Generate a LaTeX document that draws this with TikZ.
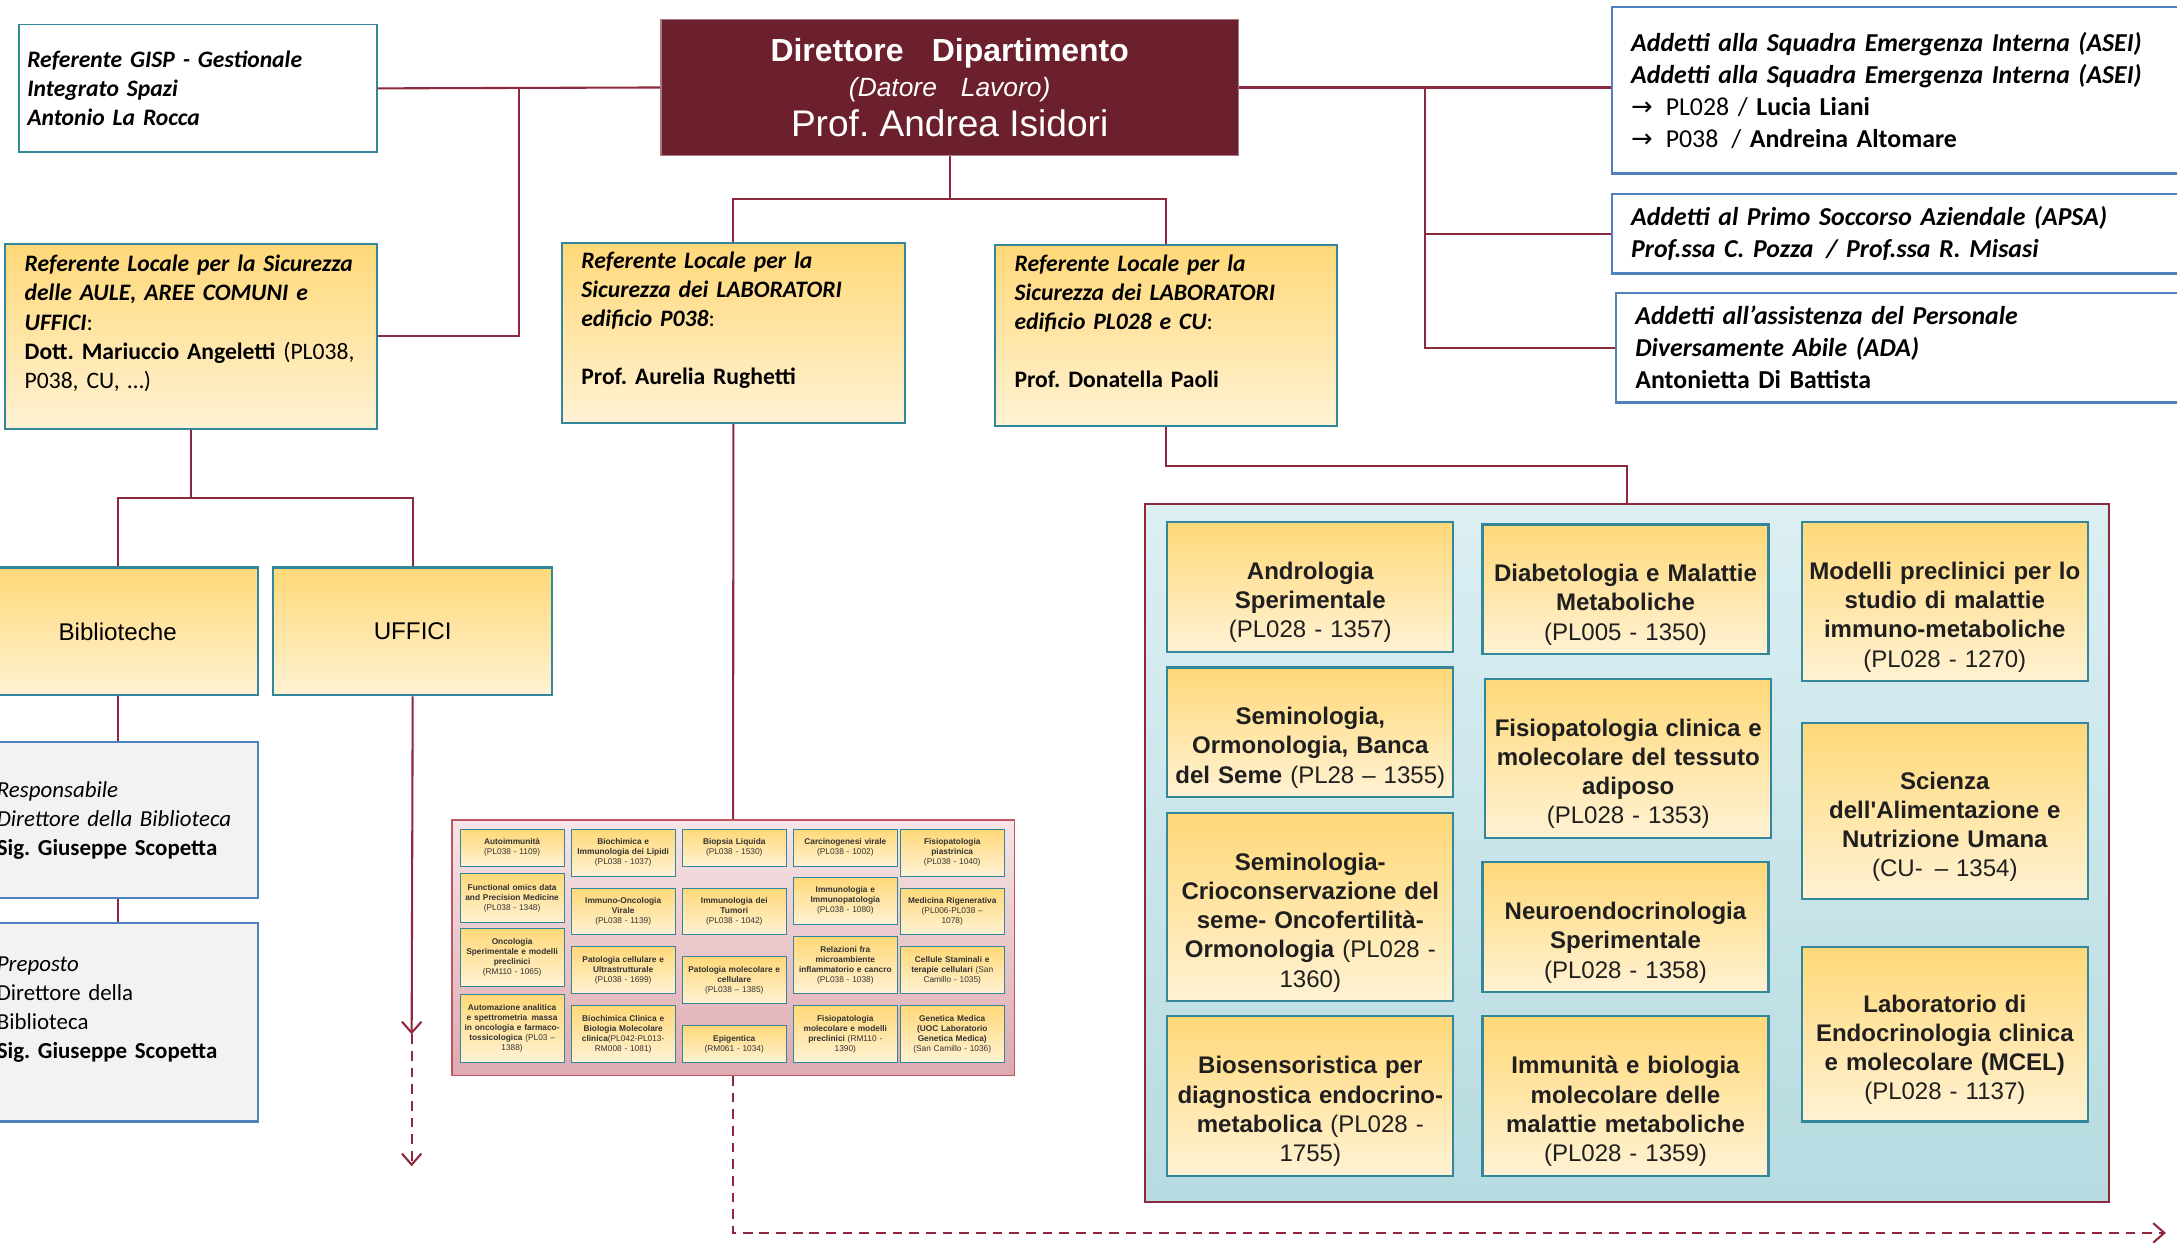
\documentclass[tikz,border=0pt]{standalone}
\usepackage{fontspec}
\setmainfont{Carlito}
\newfontfamily\arialf{Liberation Sans}
\newfontfamily\symf{DejaVu Sans}
\usetikzlibrary{arrows.meta,calc}
\frenchspacing

\definecolor{linered}{RGB}{142,40,60}
\definecolor{dirred}{RGB}{108,31,44}
\definecolor{tealb}{RGB}{52,134,155}
\definecolor{blueb}{RGB}{79,129,189}
\definecolor{goldtop}{RGB}{255,216,120}
\definecolor{goldbot}{RGB}{255,242,212}
\definecolor{panelt}{RGB}{220,239,243}
\definecolor{panelb}{RGB}{182,219,224}
\definecolor{gridt}{RGB}{246,228,230}
\definecolor{gridb}{RGB}{221,170,176}
\definecolor{gridline}{RGB}{190,85,100}

\begin{document}
\begin{tikzpicture}[x=1pt,y=-1pt,
  conn/.style={draw=linered,line width=1.5pt},
  openhead/.style={-{Straight Barb[length=8pt,width=14pt]}},
  dirbox/.style={fill=dirred,draw=dirred!60!white,line width=1pt,text=white,align=center,
    minimum width=416pt,minimum height=98pt,font=\arialf\fontsize{19}{25.5}\selectfont},
  gold/.style={draw=tealb,line width=1.5pt,top color=goldtop,bottom color=goldbot,anchor=north west},
  whitebox/.style={draw=tealb,line width=1.3pt,fill=white,anchor=north west,align=left,
    inner xsep=6pt,font=\fontsize{17}{21}\selectfont\bfseries\itshape},
  refbox/.style={gold,align=left,inner xsep=14pt,font=\fontsize{17}{21}\selectfont\bfseries},
  staffbox/.style={draw=blueb,line width=1.8pt,fill=white,anchor=north west,align=left,
    inner xsep=14pt,font=\fontsize{18.6}{23}\selectfont\bfseries},
  bibbox/.style={draw=blueb,line width=1.5pt,fill=black!5,anchor=north west,align=left,
    inner xsep=14pt,font=\fontsize{16.5}{21}\selectfont},
  areabox/.style={gold,align=center,font=\arialf\fontsize{17.4}{21}\selectfont},
  labbox/.style={gold,align=center,text width=200pt,inner xsep=3pt,text=black!88,
    font=\arialf\fontsize{17.3}{21}\selectfont\bfseries,execute at begin node={\rule{0pt}{35pt}}},
  minibox/.style={draw=tealb,line width=0.7pt,top color=goldtop,bottom color=goldbot,anchor=north west,
    align=center,text width=72pt,inner xsep=1.5pt,inner ysep=1pt,text=black!80,
    font=\arialf\fontsize{6}{7.2}\selectfont\bfseries}]

\useasboundingbox (0,0) rectangle (1568,897);
\clip (0,0) rectangle (1568,897);

% DIRETTORE
\node[dirbox] (dir) at (684,63) {{\fontsize{23}{26}\selectfont\bfseries Direttore\hspace{14pt} Dipartimento}\\
  {\itshape (Datore\hspace{12pt} Lavoro)}\\[3pt]
  {\fontsize{26.7}{27}\selectfont Prof. Andrea Isidori}};

% LEFT
\node[whitebox,text width=246pt,minimum height=92pt] (gisp) at (13,17) {Referente GISP - Gestionale\\Integrato Spazi\\Antonio La Rocca};
\node[refbox,text width=240pt,minimum height=133pt] (aule) at (3,175) {\textit{Referente Locale per la Sicurezza}\\
  \textit{delle AULE, AREE COMUNI e}\\\textit{UFFICI}{\mdseries :}\\
  Dott. Mariuccio Angeletti {\mdseries (PL038,}\\{\mdseries P038, CU, …)}\\\mbox{}};

\node[areabox,minimum width=202pt,minimum height=92pt,anchor=north west] (bib) at (-17,408) {Biblioteche};
\node[areabox,minimum width=201pt,minimum height=92pt,anchor=north west] (uff) at (196,408) {UFFICI};
\node[bibbox,text width=174pt,minimum height=112pt] (resp) at (-17,534) {\textit{Responsabile}\\
  \textit{Direttore della Biblioteca}\\\textbf{Sig. Giuseppe Scopetta}};
\node[bibbox,text width=174pt,minimum height=143pt] (prep) at (-17,664) {\textit{Preposto}\\Direttore della\\
  Biblioteca\\\textbf{Sig. Giuseppe Scopetta}\\\mbox{}};

% REFERENTI LABORATORI
\node[refbox,text width=219pt,minimum height=130pt] (p038) at (404,174) {\textit{Referente Locale per la}\\
  \textit{Sicurezza dei LABORATORI}\\\textit{edificio P038}{\mdseries :}\\[21pt]Prof. Aurelia Rughetti\\\mbox{}};
\node[refbox,text width=218pt,minimum height=130pt] (pl028) at (716,176) {\textit{Referente Locale per la}\\
  \textit{Sicurezza dei LABORATORI}\\\textit{edificio PL028 e CU}{\mdseries :}\\[21pt]Prof. Donatella Paoli\\\mbox{}};

% RIGHT
\node[staffbox,text width=394pt,minimum height=120pt] (asei) at (1160,4) {\textit{Addetti alla Squadra Emergenza Interna (ASEI)}\\
  \textit{Addetti alla Squadra Emergenza Interna (ASEI)}\\
  {\mdseries{\symf →}\enspace PL028 /} Lucia Liani\\
  {\mdseries{\symf →}\enspace P038\enspace /} Andreina Altomare};
\node[staffbox,text width=392pt,minimum height=57pt] (apsa) at (1160,139) {\textit{Addetti al Primo Soccorso Aziendale (APSA)}\\
  \textit{Prof.ssa C. Pozza\enspace / Prof.ssa R. Misasi}};
\node[staffbox,text width=389pt,minimum height=79pt] (ada) at (1163,210) {\textit{Addetti all’assistenza del Personale}\\
  \textit{Diversamente Abile (ADA)}\\Antonietta Di Battista};

% LABORATORI P038
\node[draw=gridline,line width=1pt,top color=gridt,bottom color=gridb,anchor=north west,
  minimum width=405pt,minimum height=184pt] (labs) at (325,590) {};
\node[minibox,minimum height=26.5pt] (m11) at (331,597) {Autoimmunità\\{\mdseries (PL038 - 1109)}};
\node[minibox,minimum height=35pt] (m12) at (331,629) {Functional omics data\\and Precision Medicine\\{\mdseries (PL038 - 1348)}};
\node[minibox,minimum height=41.4pt] (m13) at (331,668.6) {Oncologia\\Sperimentale e modelli\\preclinici\\{\mdseries (RM110 - 1065)}};
\node[minibox,minimum height=49pt] (m14) at (331,716) {Automazione analitica\\e spettrometria\enspace massa\\in oncologia e farmaco-\\tossicologica {\mdseries (PL03 –}\\{\mdseries 1388)}};
\node[minibox,minimum height=33.6pt] (m21) at (411,597) {Biochimica e\\Immunologia dei Lipidi\\{\mdseries (PL038 - 1037)}};
\node[minibox,minimum height=33.5pt] (m22) at (411,639.4) {Immuno-Oncologia\\Virale\\{\mdseries (PL038 - 1139)}};
\node[minibox,minimum height=34pt] (m23) at (411,681.4) {Patologia cellulare e\\Ultrastrutturale\\{\mdseries (PL038 - 1699)}};
\node[minibox,minimum height=41pt] (m24) at (411,724) {Biochimica Clinica e\\Biologia Molecolare\\clinica{\mdseries (PL042-PL013-}\\{\mdseries RM008 - 1081)}};
\node[minibox,minimum height=26.5pt] (m31) at (491,597) {Biopsia Liquida\\{\mdseries (PL038 - 1530)}};
\node[minibox,minimum height=33.5pt] (m32) at (491,639.4) {Immunologia dei\\Tumori\\{\mdseries (PL038 - 1042)}};
\node[minibox,minimum height=34pt] (m33) at (491,688.6) {Patologia molecolare e\\cellulare\\{\mdseries (PL038 – 1385)}};
\node[minibox,minimum height=26.8pt] (m34) at (491,738.3) {Epigentica\\{\mdseries (RM061 - 1034)}};
\node[minibox,minimum height=26.5pt] (m41) at (571,597) {Carcinogenesi virale\\{\mdseries (PL038 - 1002)}};
\node[minibox,minimum height=34pt] (m42) at (571,631.4) {Immunologia e\\Immunopatologia\\{\mdseries (PL038 - 1080)}};
\node[minibox,minimum height=41.5pt] (m43) at (571,674) {Relazioni fra\\microambiente\\inflammatorio e cancro\\{\mdseries (PL038 - 1038)}};
\node[minibox,minimum height=41pt] (m44) at (571,724) {Fisiopatologia\\molecolare e modelli\\preclinici {\mdseries (RM110 -}\\{\mdseries 1390)}};
\node[minibox,minimum height=33.6pt] (m51) at (648,597) {Fisiopatologia\\piastrinica\\{\mdseries (PL038 - 1040)}};
\node[minibox,minimum height=33.5pt] (m52) at (648,639.4) {Medicina Rigenerativa\\{\mdseries (PL006-PL038 –}\\{\mdseries 1078)}};
\node[minibox,minimum height=34pt] (m53) at (648,681.4) {Cellule Staminali e\\terapie cellulari {\mdseries (San}\\{\mdseries Camillo - 1035)}};
\node[minibox,minimum height=41pt] (m54) at (648,724) {Genetica Medica\\(UOC Laboratorio\\Genetica Medica)\\{\mdseries (San Camillo - 1036)}};

% LABORATORI PL028 e CU
\node[draw=linered,line width=1.5pt,top color=panelt,bottom color=panelb,anchor=north west,
  minimum width=694pt,minimum height=503pt] (panel) at (824,362) {};
\node[labbox,minimum height=94pt] (andro) at (840,375) {Andrologia\\Sperimentale\\{\mdseries (PL028 - 1357)}};
\node[labbox,minimum height=93pt] (semi) at (840,480) {Seminologia,\\Ormonologia, Banca\\del Seme {\mdseries (PL28 – 1355)}};
\node[labbox,minimum height=135pt] (crio) at (840,585) {Seminologia-\\Crioconservazione del\\seme- Oncofertilità-\\Ormonologia {\mdseries (PL028 -}\\{\mdseries 1360)}};
\node[labbox,minimum height=115pt] (bios) at (840,731) {Biosensoristica per\\diagnostica endocrino-\\metabolica {\mdseries (PL028 -}\\{\mdseries 1755)}};
\node[labbox,minimum height=93pt] (diab) at (1067,377) {Diabetologia e Malattie\\Metaboliche\\{\mdseries (PL005 - 1350)}};
\node[labbox,minimum height=115pt] (fisio) at (1069,488) {Fisiopatologia clinica e\\molecolare del tessuto\\adiposo\\{\mdseries (PL028 - 1353)}};
\node[labbox,minimum height=94pt] (neuro) at (1067,620) {Neuroendocrinologia\\Sperimentale\\{\mdseries (PL028 - 1358)}};
\node[labbox,minimum height=115pt] (immu) at (1067,731) {Immunità e biologia\\molecolare delle\\malattie metaboliche\\{\mdseries (PL028 - 1359)}};
\node[labbox,minimum height=115pt] (modelli) at (1297,375) {Modelli preclinici per lo\\studio di malattie\\immuno-metaboliche\\{\mdseries (PL028 - 1270)}};
\node[labbox,minimum height=127pt] (scienza) at (1297,520) {Scienza\\dell'Alimentazione e\\Nutrizione Umana\\{\mdseries (CU-\enspace – 1354)}};
\node[labbox,minimum height=126pt] (mcel) at (1297,681) {Laboratorio di\\Endocrinologia clinica\\e molecolare (MCEL)\\{\mdseries (PL028 - 1137)}};

% CONNECTORS
\coordinate (jl) at ($(gisp.east)!0.5!(dir.west)$);
\coordinate (jr) at ($(dir.east)!0.5!(dir.east -| asei.west)$);
\coordinate (jd) at ($(dir.south)+(0,31)$);
\coordinate (ufa) at (296.5,745);
\coordinate (ufb) at (296.5,840);
\coordinate (gend) at (1560,888);

\draw[conn] (gisp.east) -- (dir.west);
\draw[conn] (aule.east) -| (jl);
\draw[conn] (dir.east) -- (dir.east -| asei.west);
\draw[conn] (jr) |- (apsa.west);
\draw[conn] (jr) |- (ada.west);
\draw[conn] (dir.south) -- (jd) -| (p038.north);
\draw[conn] (jd) -| (pl028.north);
\draw[conn] (aule.south) -- ++(0,49) coordinate (ja) -| (bib.north);
\draw[conn] (ja) -| (uff.north);
\draw[conn] (bib.south) -- (resp.north);
\draw[conn] (resp.south) -- (prep.north);
\draw[conn,openhead] (uff.south) -- (ufa);
\draw[conn,dash pattern=on 7pt off 5pt,openhead] (ufa) -- (ufb);
\draw[conn] (p038.south) -- (labs.north);
\draw[conn,dash pattern=on 7pt off 5pt,openhead] (labs.south) |- (gend);
\draw[conn] (pl028.south) -- ++(0,28) -| (panel.north);

\end{tikzpicture}
\end{document}
